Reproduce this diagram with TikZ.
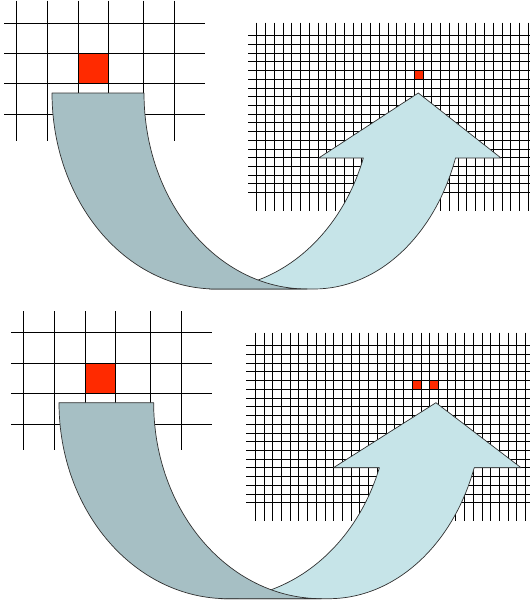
\documentclass[tikz,border=0pt]{standalone}
\definecolor{grayfill}{HTML}{A6BFC4}
\definecolor{bluefill}{HTML}{C6E4E8}
\definecolor{redfill}{HTML}{FF2A00}
\definecolor{outline}{HTML}{303030}
\begin{document}
\begin{tikzpicture}[x=1pt,y=-1pt,
  gridline/.style={black, line width=0.95pt},
  cellred/.style={fill=redfill, draw=black, line width=0.95pt},
  backband/.style={fill=grayfill, draw=outline, line width=0.7pt, line join=round},
  frontband/.style={fill=bluefill, draw=outline, line width=0.7pt, line join=round}]
\useasboundingbox (0,0) rectangle (530,605);

% ---------- top half ----------
\foreach \x in {16.7,47.7,78.3,108.7,143.7,174.3}
  \draw[gridline] (\x,0.5) -- (\x,140.7);
\foreach \y in {23.3,53.3,83.7,114.7}
  \draw[gridline] (4,\y) -- (205,\y);
\draw[cellred] (78.3,53.3) rectangle (108.7,83.7);

\foreach \k in {0,...,31}
  \draw[gridline] ({256.7+8.76*\k},22.7) -- ({256.7+8.76*\k},210.7);
\foreach \j in {0,...,18}
  \draw[gridline] (248,{35.7+8.72*\j}) -- (530,{35.7+8.72*\j});
\draw[cellred] ({256.7+8.76*18},{35.7+8.72*4}) rectangle +(8.76,8.72);

\begin{scope}[shift={(52,93)}]
  \draw[frontband] (157.3,196)
    arc[start angle=90, end angle=19.37, x radius=163.3, y radius=196]
    -- (266.7,65) -- (366.3,0) -- (449,65) -- (403.5,65)
    arc[start angle=19.37, end angle=90, x radius=150, y radius=196] -- cycle;
  \draw[backband] (0,0)
    arc[start angle=180, end angle=90, x radius=164, y radius=196]
    -- (255,196)
    arc[start angle=90, end angle=180, x radius=163, y radius=196] -- cycle;
\end{scope}

% ---------- bottom half ----------
\foreach \x in {23.3,54.3,85.3,115.7,150.7,181}
  \draw[gridline] (\x,311) -- (\x,450);
\foreach \y in {332.7,363,393.3,424.3}
  \draw[gridline] (11,\y) -- (211.7,\y);
\draw[cellred] (85.3,363) rectangle (115.7,393.3);

\foreach \k in {0,...,31}
  \draw[gridline] ({255.3+8.72*\k},332.7) -- ({255.3+8.72*\k},520.7);
\foreach \j in {0,...,18}
  \draw[gridline] (246,{345.7+8.73*\j}) -- (530,{345.7+8.73*\j});
\draw[cellred] ({255.3+8.72*18},{345.7+8.73*4}) rectangle +(8.72,8.73);
\draw[cellred] ({255.3+8.72*20},{345.7+8.73*4}) rectangle +(8.72,8.73);

\begin{scope}[shift={(59,402.7)}, xscale=1.029]
  \draw[frontband] (157.3,196)
    arc[start angle=90, end angle=19.37, x radius=163.3, y radius=196]
    -- (266.7,65) -- (366.3,0) -- (449,65) -- (403.5,65)
    arc[start angle=19.37, end angle=90, x radius=150, y radius=196] -- cycle;
  \draw[backband] (0,0)
    arc[start angle=180, end angle=90, x radius=164, y radius=196]
    -- (255,196)
    arc[start angle=90, end angle=180, x radius=163, y radius=196] -- cycle;
\end{scope}
\end{tikzpicture}
\end{document}
